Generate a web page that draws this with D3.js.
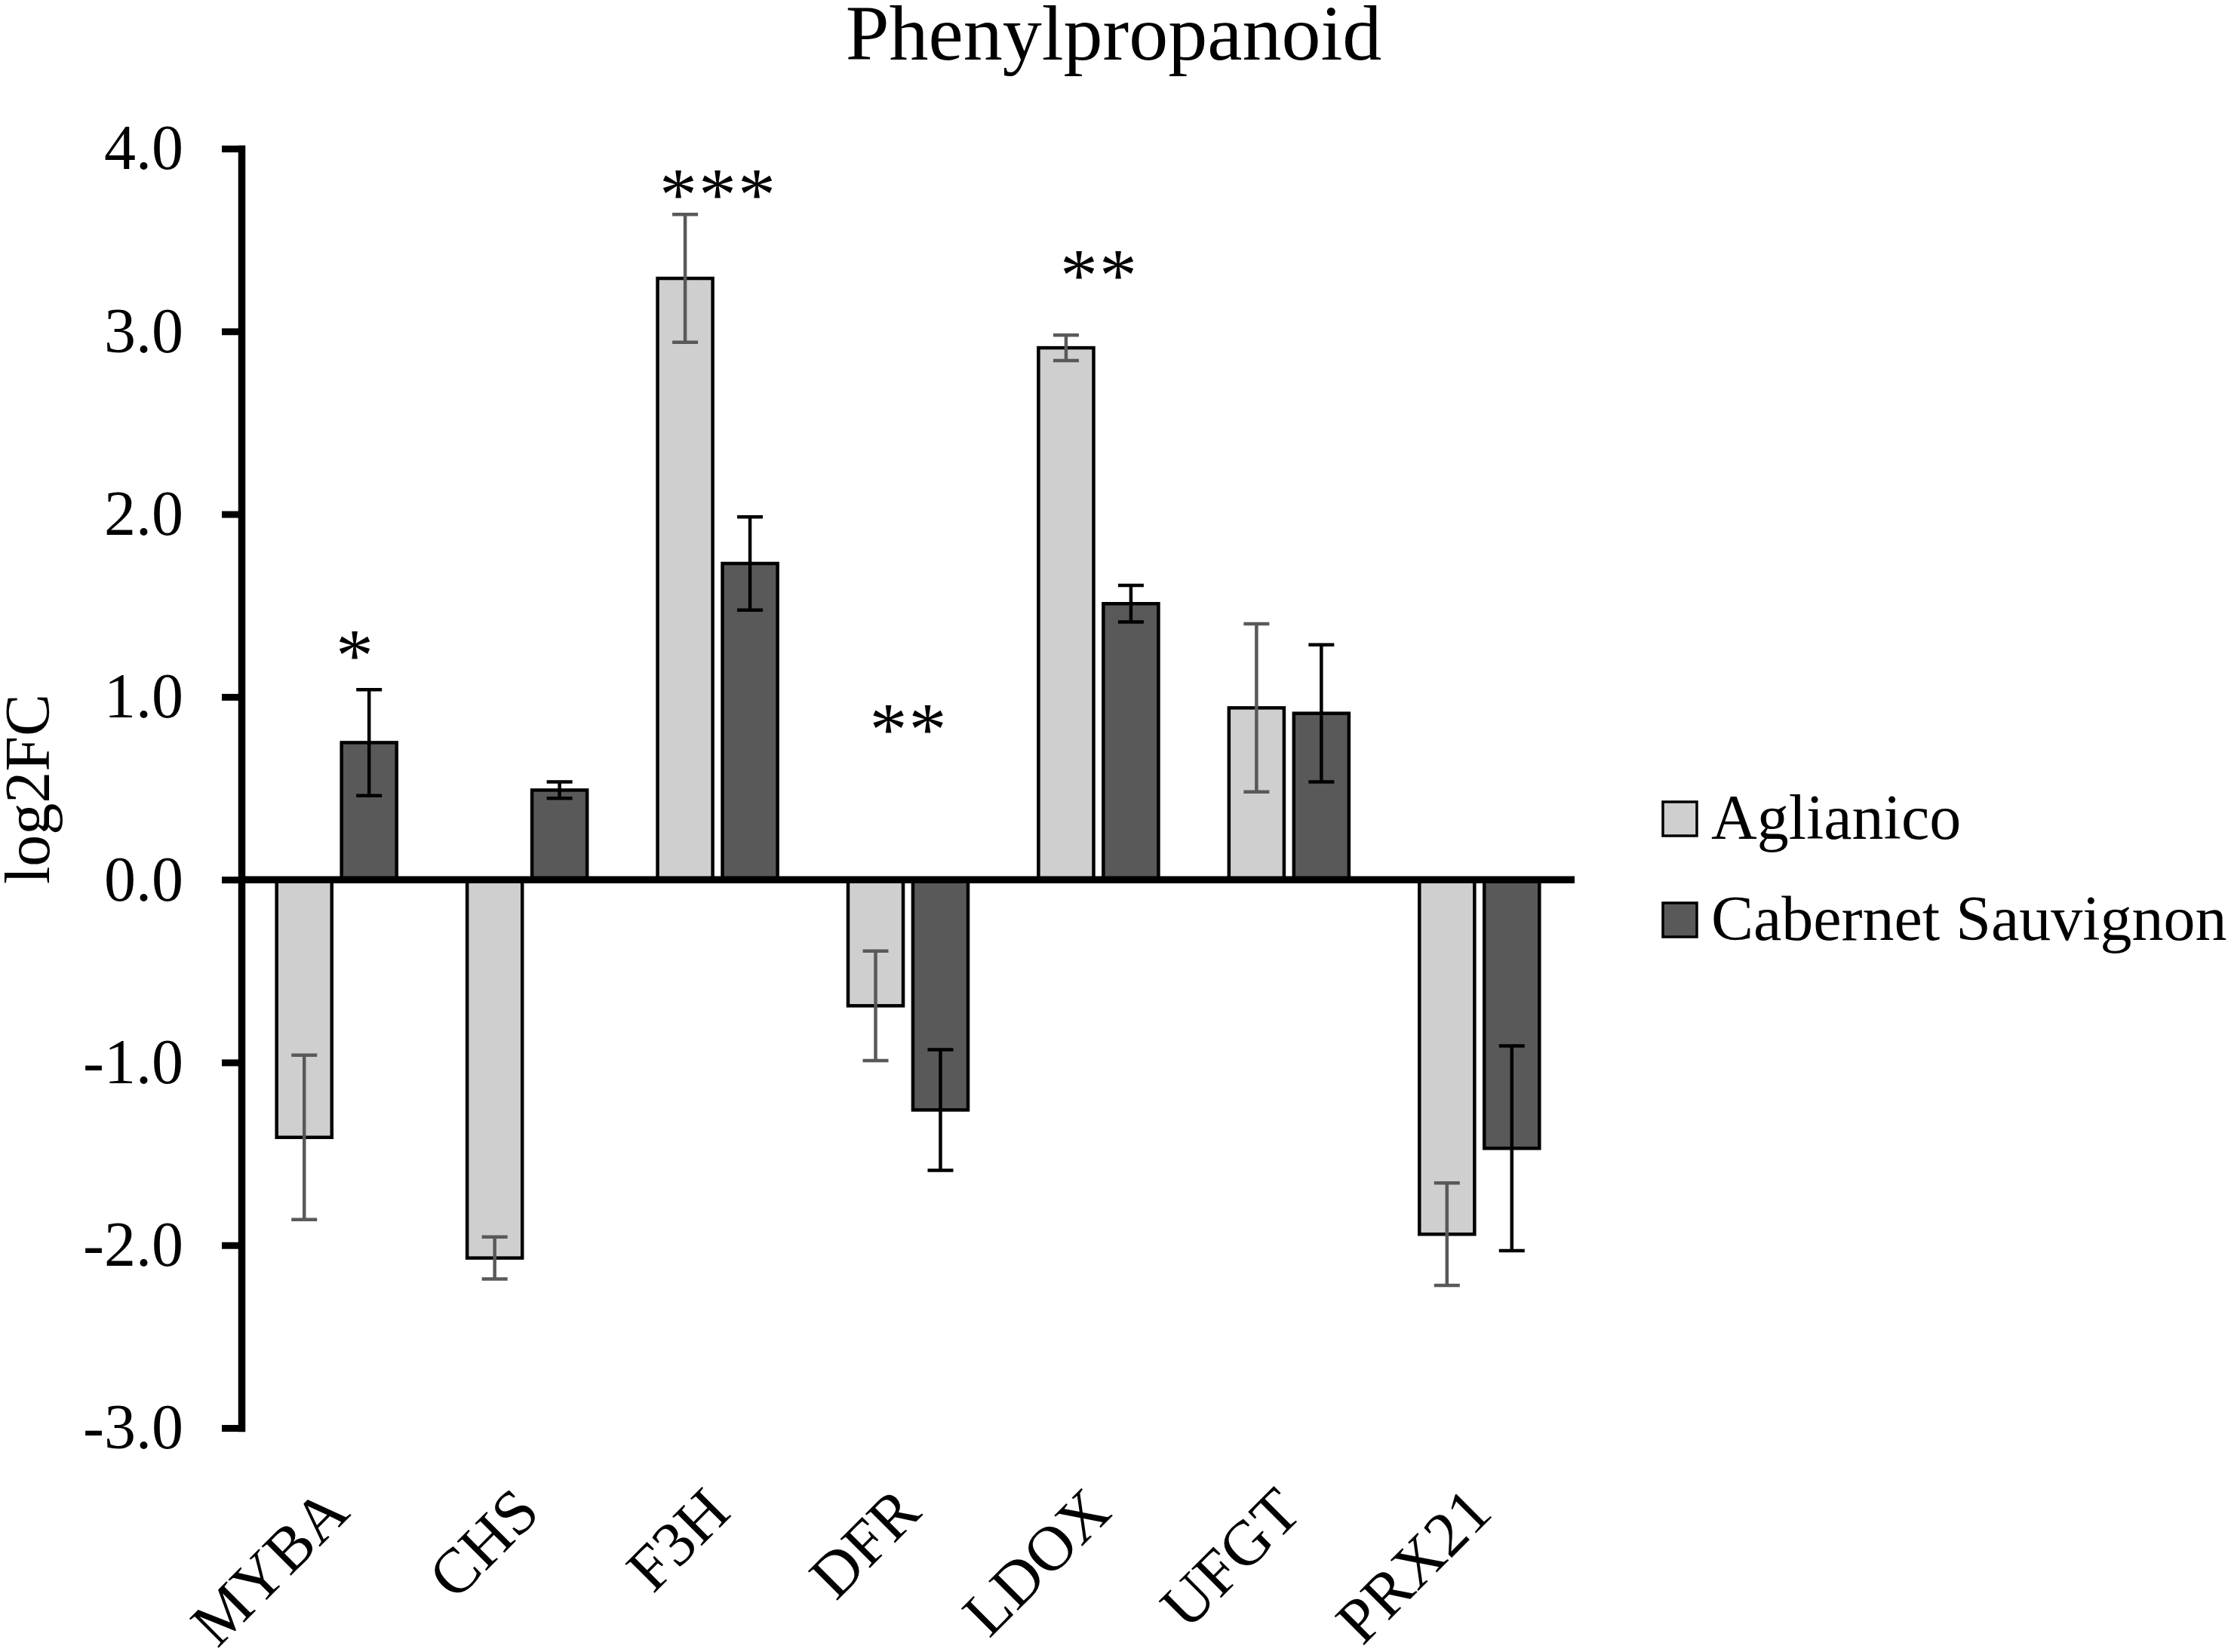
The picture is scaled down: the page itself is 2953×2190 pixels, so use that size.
<!DOCTYPE html>
<html>
<head>
<meta charset="utf-8">
<script src="https://cdn.jsdelivr.net/npm/d3@7"></script>
<style>
  body { margin: 0; background: #fff; }
  text { font-family: "Liberation Serif", "Times New Roman", serif; fill: #000; }
</style>
</head>
<body>
<svg id="chart" width="2953" height="2190"></svg>
<script>
// values
var categories = ['MYBA', 'CHS', 'F3H', 'DFR', 'LDOX', 'UFGT', 'PRX21'];
var seriesNames = ['Aglianico', 'Cabernet Sauvignon'];
var aglianico = [-1.41, -2.07, 3.29, -0.69, 2.91, 0.94, -1.94];
var aglianicoErr = [0.45, 0.115, 0.35, 0.30, 0.07, 0.46, 0.28];
var cabernet = [0.75, 0.49, 1.73, -1.26, 1.51, 0.91, -1.47];
var cabernetErr = [0.29, 0.045, 0.255, 0.33, 0.10, 0.375, 0.56];
var sigLabels = ['*', '', '***', '**', '**', '', ''];
var sigLevel = [1.09, null, 3.61, 0.685, 3.17, null, null];
var yTicks = [-3, -2, -1, 0, 1, 2, 3, 4];

var fills = ['#d0cfd0', '#595959'];
var errColors = ['#595959', '#000000'];

var svg = d3.select('#chart');

var x0 = d3.scaleBand().domain(categories).range([320, 2087])
  .paddingInner(0.37).paddingOuter(0.185);
var x1 = d3.scaleBand().domain(seriesNames).range([0, x0.bandwidth()]).paddingInner(0.15);
var y = d3.scaleLinear().domain([-3, 4]).range([1893, 197]);

var rows = [];
categories.forEach(function(c, i) {
  rows.push({cat: c, s: seriesNames[0], v: aglianico[i], e: aglianicoErr[i], k: 0});
  rows.push({cat: c, s: seriesNames[1], v: cabernet[i], e: cabernetErr[i], k: 1});
});

// bars
svg.append('g').selectAll('rect')
  .data(rows)
  .enter().append('rect')
  .attr('x', function(d) { return x0(d.cat) + x1(d.s); })
  .attr('y', function(d) { return y(Math.max(0, d.v)); })
  .attr('width', x1.bandwidth())
  .attr('height', function(d) { return Math.abs(y(d.v) - y(0)); })
  .attr('fill', function(d) { return fills[d.k]; })
  .attr('stroke', '#000')
  .attr('stroke-width', 4.5);

// error bars
var eb = svg.append('g').selectAll('g')
  .data(rows)
  .enter().append('g')
  .attr('stroke', function(d) { return errColors[d.k]; })
  .attr('stroke-width', 4.5);
function cx(d) { return x0(d.cat) + x1(d.s) + x1.bandwidth() / 2; }
eb.append('line')
  .attr('x1', cx).attr('x2', cx)
  .attr('y1', function(d) { return y(d.v + d.e); })
  .attr('y2', function(d) { return y(d.v - d.e); });
[1, -1].forEach(function(sign) {
  eb.append('line')
    .attr('x1', function(d) { return cx(d) - 17; })
    .attr('x2', function(d) { return cx(d) + 17; })
    .attr('y1', function(d) { return y(d.v + sign * d.e); })
    .attr('y2', function(d) { return y(d.v + sign * d.e); });
});

// zero line
svg.append('line')
  .attr('x1', 320).attr('x2', 2087)
  .attr('y1', y(0)).attr('y2', y(0))
  .attr('stroke', '#000').attr('stroke-width', 9.5);

// y axis
var yAxis = svg.append('g')
  .attr('transform', 'translate(320,0)')
  .call(d3.axisLeft(y).tickValues(yTicks).tickSize(26).tickSizeOuter(0).tickPadding(51)
    .tickFormat(function(d) { return d.toFixed(1); }));
yAxis.select('.domain').attr('stroke', '#000').attr('stroke-width', 9.5)
  .attr('stroke-linecap', 'square');
yAxis.selectAll('.tick line').attr('stroke', '#000').attr('stroke-width', 9);
yAxis.selectAll('.tick text')
  .style('font-family', '"Liberation Serif", "Times New Roman", serif')
  .style('font-size', '84px').attr('fill', '#000');

svg.append('text')
  .attr('transform', 'translate(65,1046) rotate(-90)')
  .attr('text-anchor', 'middle')
  .style('font-size', '84px')
  .text('log2FC');

// category labels
svg.append('g').selectAll('text')
  .data(categories)
  .enter().append('text')
  .attr('transform', function(d) {
    return 'translate(' + (x0(d) + x0.bandwidth() / 2 + 20) + ',2008) rotate(-45)';
  })
  .attr('text-anchor', 'end')
  .style('font-size', '84px')
  .text(function(d) { return d; });

// significance marks
svg.append('g').selectAll('text')
  .data(categories.filter(function(c, i) { return sigLabels[i]; }))
  .enter().append('text')
  .attr('x', function(d) {
    var i = categories.indexOf(d);
    var f = sigLabels[i].length === 1 ? 0.65 : 0.5;
    return x0(d) + x0.bandwidth() * f + 1;
  })
  .attr('y', function(d) { return y(sigLevel[categories.indexOf(d)]); })
  .attr('text-anchor', 'middle')
  .style('font-size', '100px')
  .style('letter-spacing', '2px')
  .text(function(d) { return sigLabels[categories.indexOf(d)]; });

// title
svg.append('text')
  .attr('x', 1476).attr('y', 79)
  .attr('text-anchor', 'middle')
  .style('font-size', '104px')
  .text('Phenylpropanoid');

// legend
var legend = svg.append('g').selectAll('g')
  .data(seriesNames)
  .enter().append('g')
  .attr('transform', function(d, i) { return 'translate(2204,' + (1063 + i * 134) + ')'; });
legend.append('rect')
  .attr('width', 45).attr('height', 45)
  .attr('fill', function(d, i) { return fills[i]; })
  .attr('stroke', '#000').attr('stroke-width', 3.5);
legend.append('text')
  .attr('x', 64).attr('y', 49)
  .style('font-size', '84px')
  .text(function(d) { return d; });
</script>
</body>
</html>
